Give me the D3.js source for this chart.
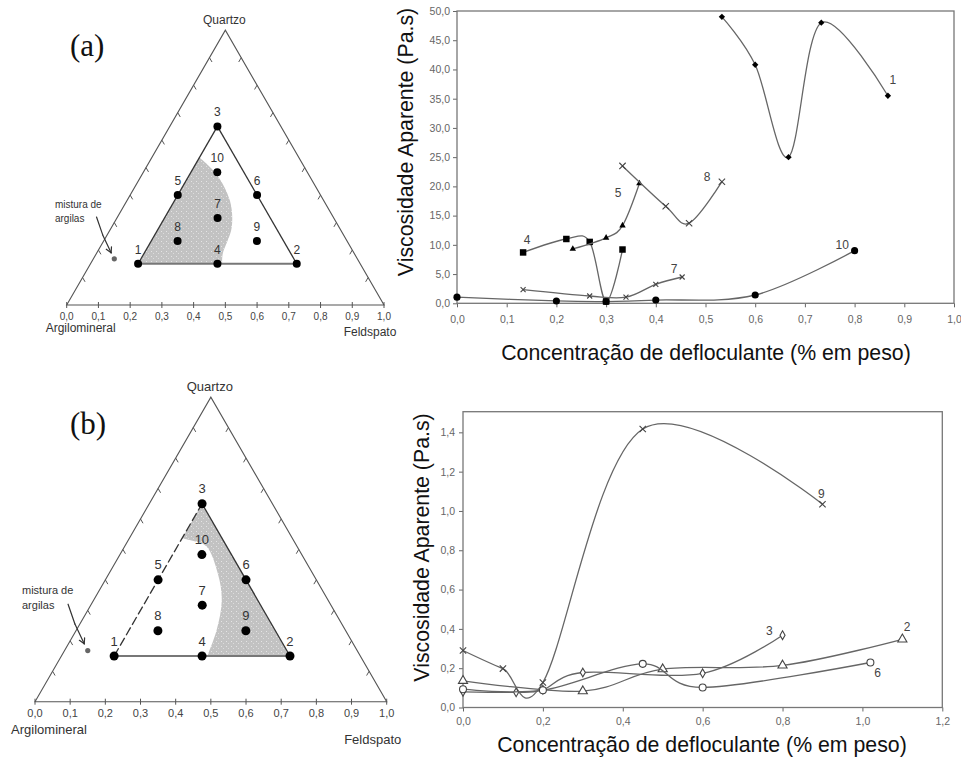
<!DOCTYPE html>
<html lang="pt">
<head>
<meta charset="UTF-8">
<title>Viscosidade aparente x defloculante</title>
<script src="https://d3js.org/d3.v7.min.js"></script>
<style>
  body { margin: 0; background: #fff; }
  svg { display: block; font-family: "Liberation Sans", Arial, sans-serif; }
</style>
</head>
<body>
<svg id="fig" width="961" height="763"></svg>
<script>
// ---- ternary diagrams (fractions of quartzo / feldspato, argilomineral is the rest)
const pointIds = ["1", "2", "3", "4", "5", "6", "7", "8", "9", "10"];
const pointQuartzo = [0.15, 0.15, 0.65, 0.15, 0.40, 0.40, 0.317, 0.233, 0.233, 0.483];
const pointFeldspato = [0.15, 0.65, 0.15, 0.40, 0.15, 0.40, 0.317, 0.233, 0.483, 0.233];
const ternTicks = [0, 0.1, 0.2, 0.3, 0.4, 0.5, 0.6, 0.7, 0.8, 0.9, 1.0];
const ternTickLabels = ["0,0", "0,1", "0,2", "0,3", "0,4", "0,5", "0,6", "0,7", "0,8", "0,9", "1,0"];
const mixQuartzo = 0.168, mixFeldspato = 0.066;
// arrow from the label to the mixture, [quartzo, feldspato]
const mixArrow = [[0.32, -0.066], [0.255, -0.014], [0.19, 0.045]];
// boundary of the grey zone, [quartzo, feldspato]
const arcA = [[0.537, 0.15], [0.476, 0.234], [0.379, 0.325], [0.282, 0.379], [0.185, 0.399], [0.15, 0.415]];
const arcB = [[0.15, 0.415], [0.235, 0.399], [0.334, 0.364], [0.42, 0.31], [0.51, 0.232], [0.53, 0.178], [0.536, 0.15]];

// ---- (a) viscosity, Pa.s
const topXTicks = [0, 0.1, 0.2, 0.3, 0.4, 0.5, 0.6, 0.7, 0.8, 0.9, 1.0];
const topYTicks = [0, 5, 10, 15, 20, 25, 30, 35, 40, 45, 50];
const a1X = [0.533, 0.6, 0.667, 0.733, 0.867];
const a1Y = [49.0, 40.8, 25.0, 48.0, 35.5];
const a4X = [0.133, 0.22, 0.267, 0.3, 0.333];
const a4Y = [8.7, 11.0, 10.5, 0.3, 9.2];
const a5X = [0.233, 0.3, 0.333, 0.367];
const a5Y = [9.3, 11.2, 13.3, 20.5];
const a7X = [0.133, 0.267, 0.34, 0.4, 0.453];
const a7Y = [2.35, 1.25, 1.05, 3.25, 4.5];
const a8X = [0.333, 0.42, 0.467, 0.533];
const a8Y = [23.5, 16.6, 13.7, 20.8];
const a10X = [0, 0.2, 0.3, 0.4, 0.6, 0.8];
const a10Y = [1.05, 0.4, 0.3, 0.56, 1.42, 9.0];
const topLabels = ["1", "4", "5", "7", "8", "10"];
const topLabelX = [0.877, 0.141, 0.324, 0.437, 0.503, 0.775];
const topLabelY = [38.2, 10.8, 18.8, 5.8, 21.6, 9.97];

// ---- (b) viscosity, Pa.s
const botXTicks = [0, 0.2, 0.4, 0.6, 0.8, 1.0, 1.2];
const botYTicks = [0, 0.2, 0.4, 0.6, 0.8, 1.0, 1.2, 1.4];
const b9X = [0, 0.1, 0.2, 0.45, 0.9];
const b9Y = [0.29, 0.198, 0.127, 1.417, 1.034];
const b3X = [0, 0.133, 0.2, 0.3, 0.6, 0.8];
const b3Y = [0.08, 0.077, 0.09, 0.178, 0.174, 0.368];
const b2X = [0, 0.3, 0.5, 0.8, 1.1];
const b2Y = [0.136, 0.083, 0.195, 0.214, 0.347];
const b6X = [0, 0.2, 0.45, 0.6, 1.02];
const b6Y = [0.093, 0.088, 0.222, 0.102, 0.229];
const botLabels = ["9", "3", "2", "6"];
const botLabelX = [0.897, 0.767, 1.112, 1.038];
const botLabelY = [1.084, 0.39, 0.41, 0.177];

const svg = d3.select("#fig");
svg.append("rect").attr("width", 961).attr("height", 763).attr("fill", "#fff");

// speckled grey of the scanned zones
const pat = svg.append("defs").append("pattern").attr("id", "speckle")
  .attr("width", 5).attr("height", 5).attr("patternUnits", "userSpaceOnUse");
pat.append("rect").attr("width", 5).attr("height", 5).attr("fill", "#c2c2c2");
pat.append("rect").attr("x", 1).attr("y", 1).attr("width", 1).attr("height", 1).attr("fill", "#e4e4e4");
pat.append("rect").attr("x", 3).attr("y", 3).attr("width", 1).attr("height", 1).attr("fill", "#dcdcdc");

function drawTernary(o) {
  const g = svg.append("g");
  const xs = d3.scaleLinear().domain([0, 1]).range([o.x0, o.x1]);
  const h = (o.x1 - o.x0) * Math.sqrt(3) / 2;
  const ys = d3.scaleLinear().domain([0, 1]).range([o.baseY, o.baseY - h]);
  const P = (q, f) => [xs(f + q / 2), ys(q)];

  // grey zone
  const arcLine = d3.line().curve(d3.curveCatmullRom)
    .x(d => P(d[0], d[1])[0]).y(d => P(d[0], d[1])[1]);
  let zone;
  if (o.zone == "a") {
    zone = "M" + P(0.15, 0.15) + arcLine(arcA).replace(/^M/, "L") + "Z";
  } else {
    zone = "M" + P(0.65, 0.15) + "L" + P(0.15, 0.65) + arcLine(arcB).replace(/^M/, "L") + "Z";
  }
  g.append("path").attr("d", zone).attr("fill", "url(#speckle)");

  // outer triangle
  g.append("path").attr("d", "M" + P(0, 0) + "L" + P(1, 0) + "L" + P(0, 1) + "Z")
    .attr("fill", "none").attr("stroke", "#555").attr("stroke-width", 1.1);

  // ticks on the sides and base
  ternTicks.slice(1, -1).forEach(v => {
    const l = P(v, 0), r = P(v, 1 - v);
    g.append("line").attr("x1", l[0]).attr("y1", l[1]).attr("x2", l[0] + 2.5).attr("y2", l[1] + 4.3)
      .attr("stroke", "#555");
    g.append("line").attr("x1", r[0]).attr("y1", r[1]).attr("x2", r[0] - 2.5).attr("y2", r[1] + 4.3)
      .attr("stroke", "#555");
  });
  ternTicks.forEach((v, i) => {
    g.append("line").attr("x1", xs(v)).attr("x2", xs(v))
      .attr("y1", o.baseY - 3).attr("y2", o.baseY + 3).attr("stroke", "#555");
    g.append("text").attr("x", xs(v)).attr("y", o.baseY + 15)
      .attr("text-anchor", "middle").attr("font-size", o.fs - 2).attr("fill", "#444")
      .text(ternTickLabels[i]);
  });

  // inner triangle
  const p1 = P(0.15, 0.15), p2 = P(0.15, 0.65), p3 = P(0.65, 0.15);
  g.append("line").attr("x1", p1[0]).attr("y1", p1[1]).attr("x2", p2[0]).attr("y2", p2[1])
    .attr("stroke", "#777").attr("stroke-width", 2);
  g.append("line").attr("x1", p2[0]).attr("y1", p2[1]).attr("x2", p3[0]).attr("y2", p3[1])
    .attr("stroke", "#333").attr("stroke-width", 1.3);
  g.append("line").attr("x1", p1[0]).attr("y1", p1[1]).attr("x2", p3[0]).attr("y2", p3[1])
    .attr("stroke", "#333").attr("stroke-width", 1.3)
    .attr("stroke-dasharray", o.dashLeft ? "9,3" : null);

  // composition points
  pointIds.forEach((id, i) => {
    const p = P(pointQuartzo[i], pointFeldspato[i]);
    g.append("circle").attr("cx", p[0]).attr("cy", p[1]).attr("r", o.r).attr("fill", "#000");
    g.append("text").attr("x", p[0]).attr("y", p[1] - o.r - 6)
      .attr("text-anchor", "middle").attr("font-size", o.fs).attr("fill", "#333").text(id);
  });

  // clay mixture and its arrow
  const m = P(mixQuartzo, mixFeldspato);
  g.append("circle").attr("cx", m[0]).attr("cy", m[1]).attr("r", 2.6).attr("fill", "#666");
  const arr = mixArrow.map(d => P(d[0], d[1]));
  d3.pairs(arr).forEach(([s, e]) => {
    g.append("line").attr("x1", s[0]).attr("y1", s[1]).attr("x2", e[0]).attr("y2", e[1])
      .attr("stroke", "#333").attr("stroke-width", 1.2).attr("stroke-linecap", "round");
  });
  const tip = arr[arr.length - 1], prev = arr[arr.length - 2];
  const ang = Math.atan2(tip[1] - prev[1], tip[0] - prev[0]);
  [-0.5, 0.5].forEach(s => {
    g.append("line").attr("x1", tip[0]).attr("y1", tip[1])
      .attr("x2", tip[0] - 6 * Math.cos(ang + s)).attr("y2", tip[1] - 6 * Math.sin(ang + s))
      .attr("stroke", "#333").attr("stroke-width", 1.2).attr("stroke-linecap", "round");
  });
  const mt = g.append("text").attr("x", xs(-0.037)).attr("y", ys(0.364) + 3.5)
    .attr("font-size", o.fs - 2).attr("fill", "#333");
  mt.append("tspan").text("mistura de");
  mt.append("tspan").attr("x", xs(-0.037)).attr("dy", "1.35em").text("argilas");

  // axis names
  const top = P(1, 0);
  g.append("text").attr("x", top[0] - 1).attr("y", top[1] - 6).attr("text-anchor", "middle")
    .attr("font-size", o.fs).attr("fill", "#333").text("Quartzo");
  g.append("text").attr("x", o.x0 + 14).attr("y", o.baseY + o.argDy).attr("text-anchor", "middle")
    .attr("font-size", o.fs).attr("fill", "#333").text("Argilomineral");
  g.append("text").attr("x", o.x1 - 14).attr("y", o.baseY + o.felDy).attr("text-anchor", "middle")
    .attr("font-size", o.fs).attr("fill", "#333").text("Feldspato");

  g.append("text").attr("x", 70).attr("y", o.letterY)
    .attr("font-family", "'Liberation Serif', 'Times New Roman', serif")
    .attr("font-size", 31).attr("fill", "#111").text(o.letter);
}

drawTernary({ x0: 66.7, x1: 384, baseY: 305, r: 4, fs: 12, zone: "a", dashLeft: false,
  argDy: 27, felDy: 31, letter: "(a)", letterY: 56 });
drawTernary({ x0: 35, x1: 386.7, baseY: 701.7, r: 4.5, fs: 13, zone: "b", dashLeft: true,
  argDy: 32, felDy: 42, letter: "(b)", letterY: 434 });

// ---- viscosity charts
const loc = d3.formatLocale({ decimal: ",", thousands: ".", grouping: [3], currency: ["", ""] });
const f1 = loc.format(".1f");
const timesSym = d3.symbolTimes || d3.symbolCross;

function drawChart(o) {
  const g = svg.append("g");
  const x = d3.scaleLinear().domain(o.xDomain).range([o.left, o.right]);
  const y = d3.scaleLinear().domain(o.yDomain).range([o.bottom, o.top]);

  const ax = g.append("g").attr("transform", `translate(0,${o.bottom})`)
    .call(d3.axisBottom(x).tickValues(o.xTicks).tickFormat(f1).tickSize(4).tickPadding(o.xPad));
  const ay = g.append("g").attr("transform", `translate(${o.left},0)`)
    .call(d3.axisLeft(y).tickValues(o.yTicks).tickFormat(f1).tickSize(4).tickPadding(o.yPad));
  [ax, ay].forEach(a => {
    a.select(".domain").remove();
    a.selectAll("line").attr("stroke", "#666");
    a.selectAll("text").attr("font-size", 10.5).attr("fill", "#666")
      .attr("font-family", "'Liberation Sans', Arial, sans-serif");
  });
  g.append("rect").attr("x", o.left).attr("y", o.top)
    .attr("width", o.right - o.left).attr("height", o.bottom - o.top)
    .attr("fill", "none").attr("stroke", "#777").attr("stroke-width", 1.3);

  const line = d3.line().curve(d3.curveCatmullRom.alpha(0)).x(d => x(d[0])).y(d => y(d[1]));
  o.series.forEach(s => {
    const pts = s.x.map((v, i) => [v, s.y[i]]);
    g.append("path").attr("d", line(pts)).attr("fill", "none")
      .attr("stroke", "#666").attr("stroke-width", 1.3);
    const cross = s.sym === timesSym;
    g.selectAll(null).data(pts).join("path")
      .attr("transform", d => `translate(${x(d[0])},${y(d[1])})` + (s.rot ? " rotate(45)" : ""))
      .attr("d", d3.symbol(s.sym, s.size)())
      .attr("fill", s.open ? "#fff" : (cross ? "none" : "#000"))
      .attr("stroke", s.open || cross ? "#444" : "none")
      .attr("stroke-width", 1.1);
  });
  o.labels.forEach((t, i) => {
    g.append("text").attr("x", x(o.labelX[i])).attr("y", y(o.labelY[i]) + 4)
      .attr("text-anchor", "middle").attr("font-size", 12).attr("fill", "#444").text(t);
  });

  g.append("text").attr("x", o.xTitle[0]).attr("y", o.xTitle[1]).attr("text-anchor", "middle")
    .attr("font-size", 21.3).attr("fill", "#111").text("Concentração de defloculante (% em peso)");
  g.append("text").attr("transform", `translate(${o.yTitle[0]},${o.yTitle[1]}) rotate(-90)`)
    .attr("text-anchor", "middle").attr("font-size", 21.3).attr("fill", "#111")
    .text("Viscosidade Aparente (Pa.s)");
}

drawChart({
  left: 457, right: 954, top: 11, bottom: 303.3,
  xDomain: [0, 1], yDomain: [0, 50], xTicks: topXTicks, yTicks: topYTicks, xPad: 8, yPad: 3,
  series: [
    { x: a1X, y: a1Y, sym: d3.symbolSquare, size: 20, rot: true },
    { x: a4X, y: a4Y, sym: d3.symbolSquare, size: 42 },
    { x: a5X, y: a5Y, sym: d3.symbolTriangle, size: 18 },
    { x: a7X, y: a7Y, sym: timesSym, size: 18 },
    { x: a8X, y: a8Y, sym: timesSym, size: 28 },
    { x: a10X, y: a10Y, sym: d3.symbolCircle, size: 40 }
  ],
  labels: topLabels, labelX: topLabelX, labelY: topLabelY,
  xTitle: [706, 360], yTitle: [413, 142]
});

drawChart({
  left: 463, right: 942.3, top: 411.7, bottom: 707.5,
  xDomain: [0, 1.2], yDomain: [0, 1.505], xTicks: botXTicks, yTicks: botYTicks, xPad: 6, yPad: 4,
  series: [
    { x: b9X, y: b9Y, sym: timesSym, size: 28 },
    { x: b3X, y: b3Y, sym: d3.symbolDiamond, size: 22, open: true },
    { x: b2X, y: b2Y, sym: d3.symbolTriangle, size: 36, open: true },
    { x: b6X, y: b6Y, sym: d3.symbolCircle, size: 38, open: true }
  ],
  labels: botLabels, labelX: botLabelX, labelY: botLabelY,
  xTitle: [702, 752], yTitle: [428.5, 547.5]
});
</script>
</body>
</html>
